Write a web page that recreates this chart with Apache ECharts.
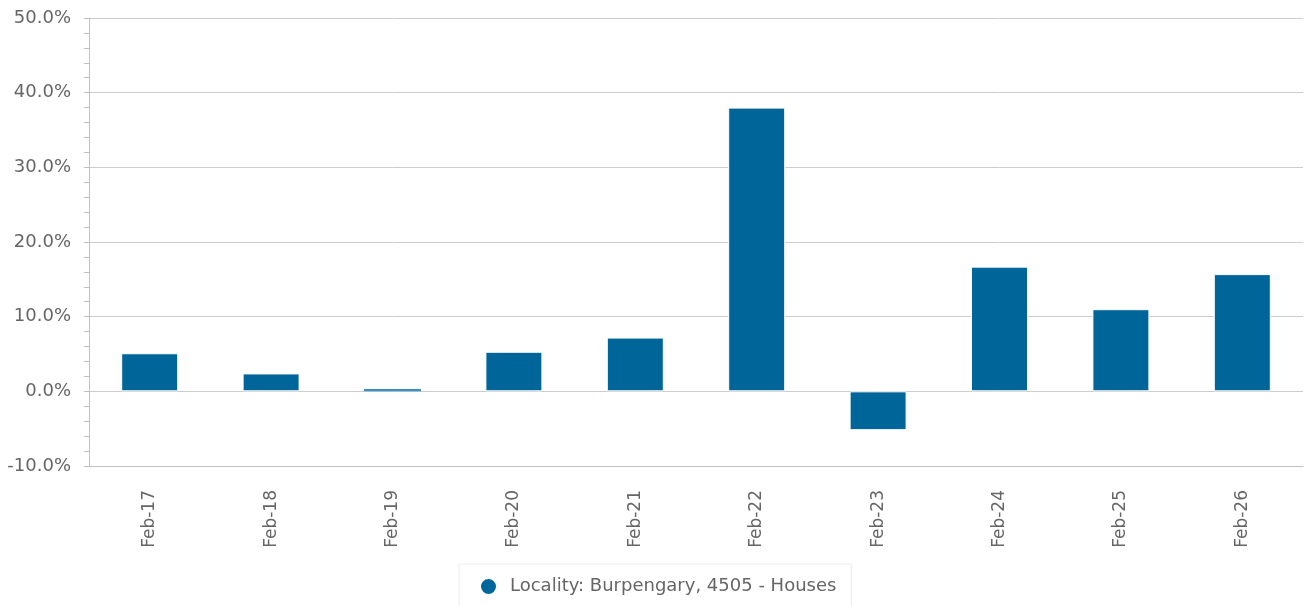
<!DOCTYPE html>
<html>
<head>
<meta charset="utf-8">
<script src="https://cdn.jsdelivr.net/npm/echarts@6/dist/echarts.min.js"></script>
<style>
  html, body { margin: 0; padding: 0; background: #fff; }
  #chart { width: 1306px; height: 606px; }
</style>
</head>
<body>
<div id="chart"></div>
<script>
'use strict';

// categories and values (% change)
var categories = ['Feb-17', 'Feb-18', 'Feb-19', 'Feb-20', 'Feb-21', 'Feb-22', 'Feb-23', 'Feb-24', 'Feb-25', 'Feb-26'];
var growth = [5.1, 2.4, 0.3, 5.3, 7.2, 38.0, -5.2, 16.7, 11.0, 15.7];
var seriesName = 'Locality: Burpengary, 4505 - Houses';

var FONT = '"DejaVu Sans", Verdana, sans-serif';

var chart = echarts.init(document.getElementById('chart'));

var barData = growth.map(function (v) {
    // tiny bars lose the white border so they stay visible
    if (Math.abs(v) < 1) {
        return { value: v, itemStyle: { borderWidth: 0, color: '#3d8fc4' } };
    }
    return v;
});

var option = {
    animation: false,
    textStyle: { fontFamily: FONT },
    grid: { left: 89, right: 3, top: 18, bottom: 140 },
    legend: {
        data: [seriesName],
        bottom: -3,
        left: 459,
        icon: 'circle',
        itemWidth: 17,
        itemHeight: 17,
        padding: [13, 15, 13, 20],
        borderColor: '#ececec',
        borderWidth: 1,
        textStyle: { color: '#666', fontSize: 18, fontFamily: FONT, padding: [0, 0, 0, 8] }
    },
    xAxis: {
        type: 'category',
        data: categories,
        axisLine: { onZero: false, lineStyle: { color: '#c0c0c0' } },
        axisTick: { alignWithLabel: true, length: 14, lineStyle: { color: '#ccd6eb' } },
        axisLabel: { rotate: 90, color: '#666', fontSize: 17, margin: 24, fontFamily: FONT }
    },
    yAxis: {
        type: 'value',
        min: -10,
        max: 50,
        interval: 10,
        axisLine: { show: true, lineStyle: { color: '#c0c0c0' } },
        axisTick: { show: true, length: 5, lineStyle: { color: '#c0c0c0' } },
        minorTick: { show: true, splitNumber: 5, length: 5, lineStyle: { color: '#c0c0c0' } },
        splitLine: { lineStyle: { color: '#cccccc' } },
        axisLabel: {
            color: '#666',
            fontSize: 18,
            margin: 18,
            fontFamily: FONT,
            formatter: function (v) { return v.toFixed(1) + '%'; }
        }
    },
    series: [{
        name: seriesName,
        type: 'bar',
        data: barData,
        barWidth: 57,
        itemStyle: { color: '#006699', borderColor: '#ffffff', borderWidth: 1 }
    }]
};

chart.setOption(option);
</script>
</body>
</html>
